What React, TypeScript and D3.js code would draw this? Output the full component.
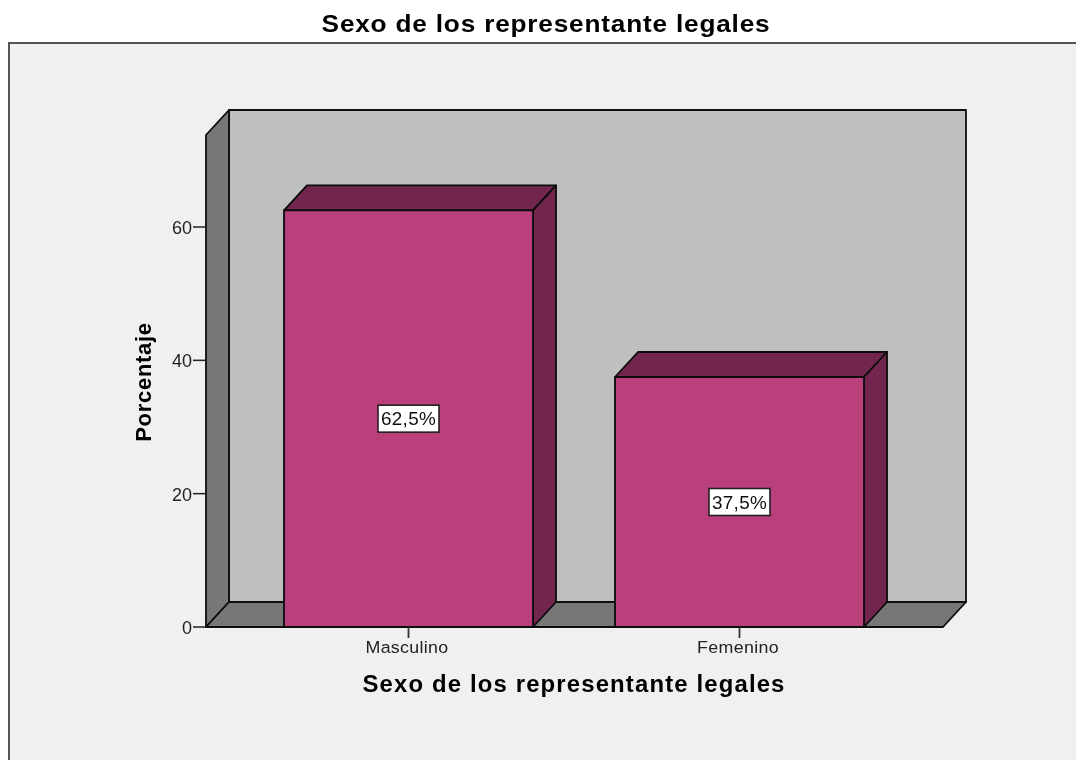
import React from "react";
import * as d3 from "d3";

const categories = ["Masculino", "Femenino"];
const percentages = [62.5, 37.5];
const barLabels = ["62,5%", "37,5%"];
const yTicks = [0, 20, 40, 60];
const chartTitle = "Sexo de los representante legales";
const yTitle = "Porcentaje";

const W = 1076, H = 760;
const depthX = 23, depthY = 25;
const plotL = 206, plotR = 943, base = 627;
const topFront = 135;
const font = "'Liberation Sans', Arial, sans-serif";

const y = d3.scaleLinear().domain([0, 60]).range([base, 227]);
const xBand = d3.scaleBand<string>().domain(categories).range([243, 905]).paddingInner(82 / 331).paddingOuter(41 / 331);

const poly = (pts: [number, number][]) => d3.line()(pts) + "Z";
const stroke = { stroke: "#0a0a0a", strokeWidth: 1.8, strokeLinejoin: "round" as const };
const at = (x: number, yy: number, sx: number) => `translate(${x},${yy}) scale(${sx},1)`;

export default function App() {
  return (
    <svg width={W} height={H} viewBox={`0 0 ${W} ${H}`} style={{ position: "absolute", left: 0, top: 0, display: "block" }} fontFamily={font}>
      <defs>
        <filter id="soft" x="0" y="0" width={W} height={H} filterUnits="userSpaceOnUse">
          <feGaussianBlur stdDeviation={0.55} />
        </filter>
      </defs>
      <g filter="url(#soft)">
        <rect width={W} height={H} fill="#fff" />
        <rect x={9} y={43} width={W + 20} height={H} fill="#f0f0f0" stroke="#555" strokeWidth={2} />
        <text transform={at(546, 32, 1.07)} textAnchor="middle" fontWeight="bold" fontSize={24.5} letterSpacing={0.75} fill="#000">{chartTitle}</text>

        {/* back wall, side wall, floor */}
        <path d={poly([[plotL + depthX, topFront - depthY], [plotR + depthX, topFront - depthY], [plotR + depthX, base - depthY], [plotL + depthX, base - depthY]])} fill="#bfbfbf" {...stroke} />
        <path d={poly([[plotL, topFront], [plotL + depthX, topFront - depthY], [plotL + depthX, base - depthY], [plotL, base]])} fill="#777" {...stroke} />
        <path d={poly([[plotL, base], [plotL + depthX, base - depthY], [plotR + depthX, base - depthY], [plotR, base]])} fill="#777" {...stroke} />

        {/* y axis */}
        {yTicks.map((t) => (
          <g key={t}>
            <line x1={193} x2={plotL} y1={y(t)} y2={y(t)} stroke="#222" strokeWidth={1.5} />
            <text x={192} y={y(t) + 7} textAnchor="end" fontSize={18} fill="#222">{t}</text>
          </g>
        ))}
        <text transform="translate(151,382) rotate(-90)" textAnchor="middle" fontWeight="bold" fontSize={22} letterSpacing={0.7} fill="#000">{yTitle}</text>

        {/* bars */}
        {categories.map((c, i) => {
          const x0 = xBand(c)!, x1 = x0 + xBand.bandwidth(), yt = y(percentages[i]);
          const cx = (x0 + x1) / 2, cy = (yt + base) / 2;
          return (
            <g key={c}>
              <path d={poly([[x0, yt], [x0 + depthX, yt - depthY], [x1 + depthX, yt - depthY], [x1, yt]])} fill="#72284e" {...stroke} />
              <path d={poly([[x1, yt], [x1 + depthX, yt - depthY], [x1 + depthX, base - depthY], [x1, base]])} fill="#72284e" {...stroke} />
              <rect x={x0} y={yt} width={x1 - x0} height={base - yt} fill="#ba3f7c" {...stroke} />
              <rect x={cx - 30.5} y={cy - 13.5} width={61} height={27} fill="#fff" stroke="#222" strokeWidth={1.6} />
              <text transform={at(cx, cy + 6.5, 1.05)} textAnchor="middle" fontSize={18} letterSpacing={0.3} fill="#111">{barLabels[i]}</text>
              <line x1={cx} x2={cx} y1={base} y2={base + 11} stroke="#333" strokeWidth={1.8} />
              <text transform={at(cx - 1.5, 653, 1.08)} textAnchor="middle" fontSize={16.5} letterSpacing={0.3} fill="#222">{c}</text>
            </g>
          );
        })}
        <text transform={at(574, 692, 1.04)} textAnchor="middle" fontWeight="bold" fontSize={23} letterSpacing={1.1} fill="#000">{chartTitle}</text>
      </g>
    </svg>
  );
}
